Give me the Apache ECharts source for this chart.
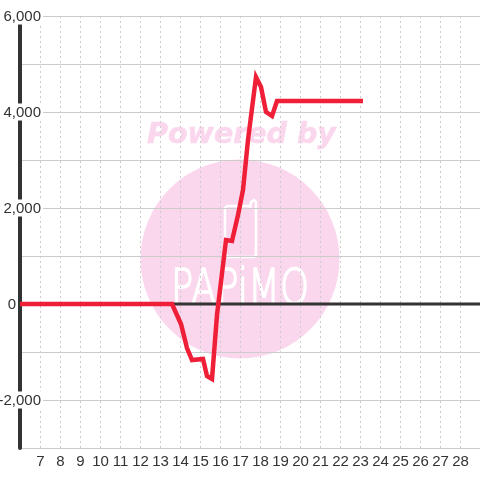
<!DOCTYPE html>
<html>
<head>
<meta charset="utf-8">
<style>html,body{margin:0;padding:0;background:#fff}#c{width:480px;height:480px}</style>
<script src="https://cdn.jsdelivr.net/npm/echarts@6/dist/echarts.min.js"></script>
</head>
<body>
<div id="c"></div>
<script>
const xValues = [6, 13.6, 14.05, 14.35, 14.6, 15.15, 15.35, 15.6, 15.85, 16.0, 16.3, 16.6, 16.9, 17.15, 17.4, 17.8, 18.05, 18.3, 18.6, 18.85, 23.15];
const yValues = [0, 0, -417, -917, -1167, -1146, -1500, -1562, -229, 292, 1333, 1312, 1854, 2375, 3417, 4729, 4521, 4000, 3917, 4229, 4229];
const watermarkTitle = 'Powered by';
const watermarkName = 'PAPiMO';

const chart = echarts.init(document.getElementById('c'), null, {renderer: 'canvas'});
chart.setOption({
  animation: false,
  backgroundColor: '#fff',
  grid: {left: 20, right: 0, top: 16, bottom: 32, containLabel: false, outerBoundsMode: 'none'},
  graphic: [
    {type: 'circle', z: -10, silent: true, shape: {cx: 240, cy: 259, r: 99.5}, style: {fill: '#fbd7ee'}},
    {type: 'text', z: -9, silent: true, x: 241.5, y: 136, style: {text: watermarkTitle, font: 'italic bold 28.5px "DejaVu Sans"', fill: '#fbd7ee', stroke: '#fbd7ee', lineWidth: 0.6, align: 'center', verticalAlign: 'middle'}},
    {type: 'polyline', z: -9, silent: true, shape: {points: [[250, 206], [227, 206], [225, 208], [225, 254], [228, 257], [254, 257], [256, 255], [256, 202], [254, 200], [251, 202], [250, 208]]}, style: {fill: 'none', stroke: '#fff', lineWidth: 2.5}},
    {type: 'text', z: -9, silent: true, x: 240, y: 291, scaleY: 1.35, style: {text: watermarkName, font: '200 37px "DejaVu Sans"', fill: '#fff', stroke: '#fff', lineWidth: 1.2, align: 'center', verticalAlign: 'middle'}}
  ],
  xAxis: {
    type: 'value', min: 6, max: 29, interval: 1,
    axisLine: {show: false}, axisTick: {show: false},
    axisLabel: {
      margin: 6, fontFamily: 'Liberation Sans', fontSize: 15, color: '#333', padding: [0, 0, 0, 1],
      formatter: v => (v === 6 || v === 29) ? '' : String(v)
    },
    splitLine: {show: true, lineStyle: {color: '#ccc', width: 1, type: [2, 3]}}
  },
  yAxis: {
    type: 'value', min: -3000, max: 6000, interval: 1000,
    axisLine: {show: true, onZero: false, lineStyle: {color: '#333', width: 4}}, axisTick: {show: false},
    axisLabel: {
      margin: -23, fontFamily: 'Liberation Sans', fontSize: 15, color: '#333',
      formatter: v => {
        if (v === 0) return '{zero|0}';
        return (v % 2000 === 0) ? '{big|' + echarts.format.addCommas(v) + '}' : '';
      },
      rich: {
        big: {fontFamily: 'Liberation Sans', fontSize: 15, color: '#333', backgroundColor: '#fff', padding: [2, 2, 0, 0]},
        zero: {fontFamily: 'Liberation Sans', fontSize: 15, color: '#333', padding: [2, 27, 0, 0]}
      }
    },
    splitLine: {show: true, lineStyle: {color: '#ccc', width: 1}}
  },
  series: [
    {type: 'line', silent: true, z: 2, symbol: 'none', data: [[6, 0], [29, 0]], lineStyle: {color: '#333', width: 3}},
    {type: 'line', z: 5, symbol: 'none', data: xValues.map((x, i) => [x, yValues[i]]), lineStyle: {color: '#f01f38', width: 4.5, join: 'miter'}}
  ]
});
</script>
</body>
</html>
